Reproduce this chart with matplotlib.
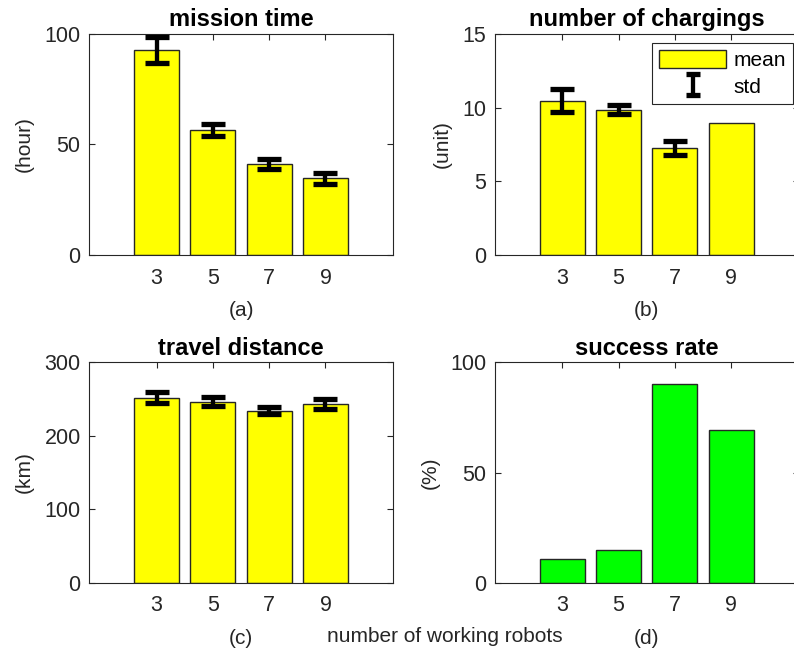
import numpy as np
import matplotlib.pyplot as plt
from matplotlib.patches import Patch

plt.rcParams['font.family'] = ['Liberation Sans', 'DejaVu Sans']

robots = [3, 5, 7, 9]

mission_mean = [92.8, 56.6, 41.2, 34.7]
mission_std = [6.0, 2.8, 2.3, 2.5]

charge_mean = [10.48, 9.87, 7.26, 8.96]
charge_std = [0.78, 0.30, 0.50, np.nan]

dist_mean = [252, 246.6, 234.3, 243.9]
dist_std = [7.0, 6.2, 4.8, 6.8]

success = [10.9, 15.0, 90.3, 69.3]

W, H = 794, 655
fig = plt.figure(figsize=(W / 100, H / 100), dpi=100)

def ax_at(x0, x1, y0, y1):
    return fig.add_axes([x0 / W, 1 - y1 / H, (x1 - x0) / W, (y1 - y0) / H])

axes = [
    ax_at(89, 393, 34, 255),
    ax_at(494.7, 798.7, 34, 255),
    ax_at(89, 393, 362.3, 582.7),
    ax_at(494.7, 798.7, 362.3, 582.7),
]

edge = '#262626'
tick_fs = 15.5
lab_fs = 15


def style(ax, ylim, yticks, ylabel, title, sub):
    ax.set_xlim(0.6, 11.4)
    ax.set_ylim(*ylim)
    ax.set_xticks(robots)
    ax.set_yticks(yticks)
    ax.tick_params(direction='in', top=True, right=True, length=4, width=0.8,
                   color=edge, labelsize=tick_fs, labelcolor='#262626')
    ax.tick_params(axis='x', pad=9)
    ax.tick_params(axis='y', pad=6)
    for s in ax.spines.values():
        s.set_color(edge)
        s.set_linewidth(0.8)
    ax.set_ylabel(ylabel, fontsize=lab_fs, color='#262626', labelpad=7.5)
    ax.set_xlabel(sub, fontsize=lab_fs, color='#262626', labelpad=9)
    ax.set_title(title, fontsize=17, fontweight='bold', pad=5.5)


def bars_with_err(ax, mean, std, color):
    ax.bar(robots, mean, width=1.6, color=color, edgecolor=edge, linewidth=1, zorder=2)
    m = np.array(mean, dtype=float)
    s = np.array(std, dtype=float)
    ok = np.isfinite(s)
    x = np.array(robots)[ok]
    ax.errorbar(x, m[ok], yerr=s[ok], fmt='none', ecolor='black',
                elinewidth=3.1, capsize=8.3, capthick=3.8, zorder=3)


bars_with_err(axes[0], mission_mean, mission_std, '#ffff00')
style(axes[0], (0, 100), [0, 50, 100], '(hour)', 'mission time', '(a)')

bars_with_err(axes[1], charge_mean, charge_std, '#ffff00')
style(axes[1], (0, 15), [0, 5, 10, 15], '(unit)', 'number of chargings', '(b)')

bars_with_err(axes[2], dist_mean, dist_std, '#ffff00')
style(axes[2], (0, 300), [0, 100, 200, 300], '(km)', 'travel distance', '(c)')

axes[3].bar(robots, success, width=1.6, color='#00ff00', edgecolor=edge, linewidth=1, zorder=2)
style(axes[3], (0, 100), [0, 50, 100], '(%)', 'success rate', '(d)')

# legend proxies (the errorbar proxy sits outside the visible range)
mean_patch = Patch(facecolor='#ffff00', edgecolor=edge, linewidth=1)
std_proxy = axes[1].errorbar([-50], [-50], yerr=[1], fmt='none', ecolor='black',
                             elinewidth=3.1, capsize=4.7, capthick=3.8)
leg = axes[1].legend([mean_patch, std_proxy], ['mean', 'std'], loc='upper right',
                     bbox_to_anchor=(793 / W, 1 - 43 / H), bbox_transform=fig.transFigure,
                     borderaxespad=0, fontsize=lab_fs, fancybox=False, framealpha=1,
                     handlelength=3.2, handleheight=0.95, handletextpad=0.35,
                     borderpad=0.35, labelspacing=0.3)
leg.get_frame().set_edgecolor(edge)
leg.get_frame().set_linewidth(0.8)

fig.text(445 / W, 1 - 636 / H, 'number of working robots', ha='center', va='center',
         fontsize=lab_fs, color='#262626')

fig.savefig('out.png', dpi=100)
